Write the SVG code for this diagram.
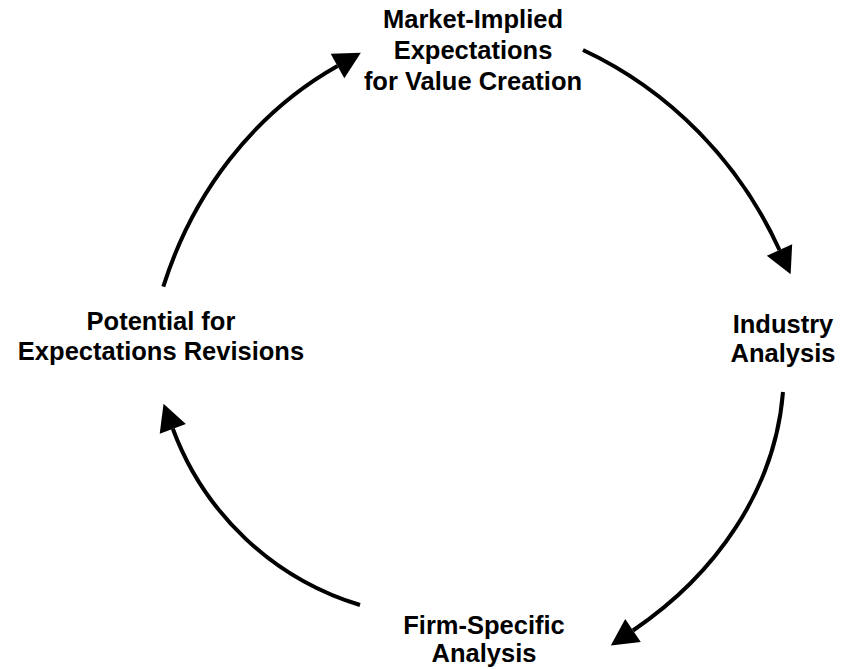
<svg xmlns="http://www.w3.org/2000/svg" width="849" height="670" viewBox="0 0 849 670">
<style>
.lbl{font-family:"Liberation Sans",Arial,sans-serif;font-weight:bold;font-size:25.5px;fill:#000;text-anchor:middle}
.arc{fill:none;stroke:#000;stroke-width:4}
</style>
<defs>
<marker id="ah" markerUnits="userSpaceOnUse" markerWidth="30" markerHeight="30" viewBox="0 -14 26 28" refX="0" refY="0" orient="auto">
<path d="M0,-13 L25,0 L0,13 Z" fill="#000"/>
</marker>
</defs>
<rect width="849" height="670" fill="#fff"/>
<g id="connectors">
<path class="arc" marker-end="url(#ah)" d="M583,50 C670.3,90.7 739.5,162.4 779.5,250"/>
<path class="arc" marker-end="url(#ah)" d="M783,392 C775.1,490.5 715,575.2 633,630.5"/>
<path class="arc" marker-end="url(#ah)" d="M360,605 C273.5,578.8 204.1,513.5 172.8,428.8"/>
<path class="arc" marker-end="url(#ah)" d="M163.3,286.7 C192.4,194.2 252.9,113.7 337.5,66"/>
</g>
<g id="market">
<text class="lbl" x="473" y="28">Market-Implied</text>
<text class="lbl" x="473" y="59">Expectations</text>
<text class="lbl" x="473" y="90">for Value Creation</text>
</g>
<g id="industry">
<text class="lbl" x="783" y="333">Industry</text>
<text class="lbl" x="783" y="362">Analysis</text>
</g>
<g id="firm">
<text class="lbl" x="484" y="634">Firm-Specific</text>
<text class="lbl" x="484" y="662">Analysis</text>
</g>
<g id="potential">
<text class="lbl" x="161" y="330">Potential for</text>
<text class="lbl" x="161" y="360">Expectations Revisions</text>
</g>
</svg>
